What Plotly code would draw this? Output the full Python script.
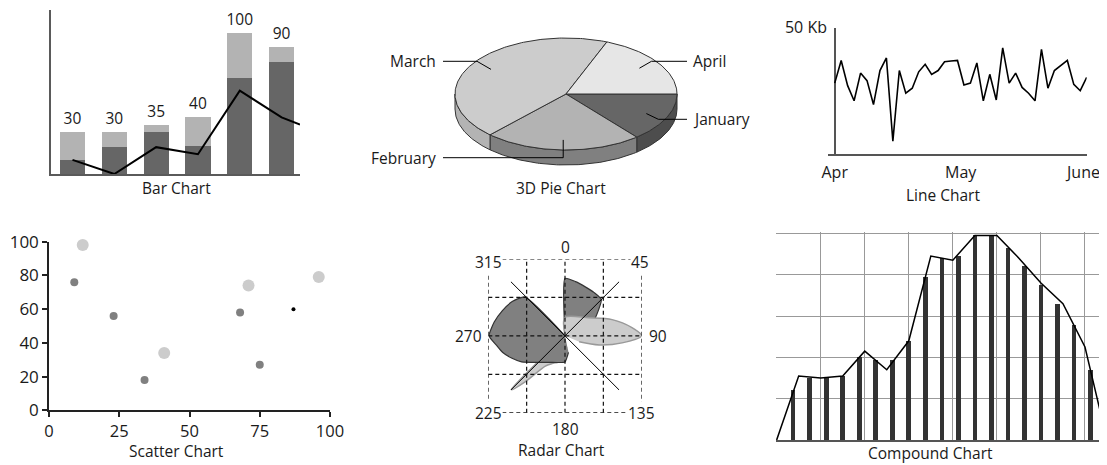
import numpy as np
import plotly.graph_objects as go

W, H = 1107, 465
OFF = 8  # the page body keeps its default 8px margin, so the figure starts at (8, 8)
FONT = "Open Sans"
INK = "#1a1a1a"

# ---------------- data ----------------
# bar chart (stacked) + line
bar_x = [0, 1, 2, 3, 4, 5]
bar_labels = ["30", "30", "35", "40", "100", "90"]
bar_dark = [10, 19, 30, 20, 68, 79]
bar_light = [20, 11, 5, 20, 32, 11]
bar_line_x = [0, 1, 2, 3, 4, 5, 5.44]
bar_line_y = [10, 0, 19, 14, 59, 40, 35]

# 3D pie
pie_labels = ["January", "February", "March", "April"]
pie_values = [14, 23, 44, 19]
pie_top_colors = ["#666666", "#b3b3b3", "#cccccc", "#e6e6e6"]
pie_side_colors = ["#4d4d4d", "#808080", "#b3b3b3", "#cccccc"]

# line chart (Kb)
kb_values = [28, 37, 27, 21, 32, 29, 19.5, 33, 38, 5,
             33, 24, 26, 32.5, 35.5, 31.5, 33, 36.5, 36.8, 37,
             27.3, 28, 36, 21, 31.5, 21.3, 42, 28, 32, 26.3,
             24, 21, 41.4, 26, 33, 35, 37, 27.5, 25, 30.3]
kb_x = list(range(len(kb_values)))
kb_tick_pos = [0, 19.5, 38.5]
kb_tick_labels = ["Apr", "May", "June"]

# scatter
sc_big_x = [12, 41, 71, 96]
sc_big_y = [98, 34, 74, 79]
sc_mid_x = [9, 23, 34, 68, 75]
sc_mid_y = [76, 56, 18, 58, 27]
sc_dot_x = [87]
sc_dot_y = [60]

# radar (degrees clockwise from north, radius 0..1)
radar_angles = [0, 45, 90, 135, 180, 225, 270, 315]
radar_dark_top_theta = [0, 0, 11, 23, 34, 45, 60, 75]
radar_dark_top_r = [0, 0.75, 0.72, 0.69, 0.68, 0.67, 0.45, 0.25]
radar_dark_left_theta = [0, 314, 303, 292, 281, 270, 262, 255, 247, 239, 225, 210, 195, 180, 168]
radar_dark_left_r = [0, 0.73, 0.82, 0.88, 0.94, 0.99, 0.9, 0.84, 0.75, 0.66, 0.49, 0.4, 0.36,
                     0.34, 0.22]
radar_light_right_theta = [0, 0, 53, 71, 83, 90, 97, 105, 113]
radar_light_right_r = [0, 0.24, 0.39, 0.65, 0.88, 1.0, 0.75, 0.46, 0.2]
radar_light_low_theta = [225, 225, 221, 213, 202, 185, 172]
radar_light_low_r = [0, 1.0, 0.8, 0.47, 0.38, 0.3, 0.15]

# compound chart
comp_line_x = list(range(16))
comp_line_y = [0, 31, 30, 31, 43, 34, 48, 89, 87, 99, 99, 88, 76, 66, 45, 0]
comp_bar_x = [0.75, 1.5, 2.25, 3, 3.75, 4.5, 5.25, 6, 6.75, 7.5,
              8.25, 9, 9.75, 10.5, 11.25, 12, 12.75, 13.5, 14.25]
comp_bar_y = [24, 30, 30, 31, 40, 38.5, 38.5, 48, 79, 88,
              89, 99, 99, 93, 84, 75, 66, 55.5, 34]

FW, FH = W - OFF, H - OFF


# window pixel -> paper helpers
def fx(p):
    return (p - OFF) / FW


def fy(p):
    return 1 - (p - OFF) / FH


fig = go.Figure()

# ---------------- bar chart ----------------
fig.add_trace(go.Bar(x=bar_x, y=bar_dark, marker=dict(color="#666666", line=dict(width=0)),
                     width=0.6, xaxis="x", yaxis="y"))
fig.add_trace(go.Bar(x=bar_x, y=bar_light, marker=dict(color="#b3b3b3", line=dict(width=0)),
                     width=0.6, text=bar_labels, textposition="outside", constraintext="none",
                     cliponaxis=False, textfont=dict(size=15.5, color=INK, family=FONT),
                     xaxis="x", yaxis="y"))
fig.add_trace(go.Scatter(x=bar_line_x, y=bar_line_y, mode="lines",
                         line=dict(color="#000000", width=2), xaxis="x", yaxis="y"))

# ---------------- 3D pie ----------------
cx, cy, rx, ry, depth = 566, 94, 111, 56, 15
bounds = np.concatenate([[0], np.cumsum(pie_values)]) / sum(pie_values) * 360


def arc(a0, a1, off=0.0):
    t = np.radians(np.linspace(a0, a1, max(2, int(abs(a1 - a0)) + 1)))
    return list(cx + rx * np.cos(t)), list(cy + ry * np.sin(t) + off)


# front walls
for i in range(len(pie_values)):
    s0, s1 = max(bounds[i], 0), min(bounds[i + 1], 180)
    if s1 > s0:
        xt, yt = arc(s0, s1)
        xb, yb = arc(s1, s0, depth)
        fig.add_trace(go.Scatter(x=xt + xb + [xt[0]], y=yt + yb + [yt[0]], mode="lines",
                                 fill="toself", fillcolor=pie_side_colors[i],
                                 line=dict(color="#333333", width=1), xaxis="x2", yaxis="y2"))
# top faces
for i in range(len(pie_values)):
    xt, yt = arc(bounds[i], bounds[i + 1])
    fig.add_trace(go.Scatter(x=[cx] + xt + [cx], y=[cy] + yt + [cy], mode="lines",
                             fill="toself", fillcolor=pie_top_colors[i],
                             line=dict(color="#333333", width=1), xaxis="x2", yaxis="y2"))

# labels + leader lines
pie_label_y = {"January": 119.3, "February": 157.7, "March": 61.3, "April": 61.3}
annotations = []
for i, name in enumerate(pie_labels):
    mid = np.radians((bounds[i] + bounds[i + 1]) / 2)
    ax_, ay_ = cx + 0.8 * rx * np.cos(mid), cy + 0.82 * ry * np.sin(mid)
    ly = pie_label_y[name]
    left = np.cos(mid) < 0.1
    end_x = 443 if left else 687
    if abs(np.cos(mid)) < 0.3:
        xs, ys = [ax_, ax_, end_x], [ay_, ly, ly]
    else:
        ex = ax_ - 14 if left else ax_ + 12
        xs, ys = [ax_, ex, end_x], [ay_, ly, ly]
    fig.add_trace(go.Scatter(x=xs, y=ys, mode="lines", line=dict(color="#000000", width=1),
                             xaxis="x2", yaxis="y2"))
    annotations.append(dict(x=438 if left else 691, y=ly, xref="x2", yref="y2", text=name,
                            showarrow=False, xanchor="right" if left else "left",
                            yanchor="middle", font=dict(size=15.5)))

# ---------------- line chart ----------------
fig.add_trace(go.Scatter(x=kb_x, y=kb_values, mode="lines",
                         line=dict(color="#000000", width=1.6), xaxis="x3", yaxis="y3"))

# ---------------- scatter ----------------
fig.add_trace(go.Scatter(x=sc_big_x, y=sc_big_y, mode="markers",
                         marker=dict(color="#cccccc", size=12, line=dict(width=0)),
                         xaxis="x4", yaxis="y4", cliponaxis=False))
fig.add_trace(go.Scatter(x=sc_mid_x, y=sc_mid_y, mode="markers",
                         marker=dict(color="#808080", size=8, line=dict(width=0)),
                         xaxis="x4", yaxis="y4"))
fig.add_trace(go.Scatter(x=sc_dot_x, y=sc_dot_y, mode="markers",
                         marker=dict(color="#000000", size=4, line=dict(width=0)),
                         xaxis="x4", yaxis="y4"))

# ---------------- radar ----------------
def petal(theta, r, fill, edge, width, smooth):
    return go.Scatterpolar(theta=theta, r=r, mode="lines", fill="toself", fillcolor=fill,
                           line=dict(color=edge, width=width, shape="spline", smoothing=smooth),
                           subplot="polar")


fig.add_trace(petal(radar_light_low_theta, radar_light_low_r, "#cccccc", "#999999", 1.5, 0.9))
fig.add_trace(petal(radar_dark_left_theta, radar_dark_left_r, "#808080", "#333333", 1.2, 0.5))
fig.add_trace(petal(radar_dark_top_theta, radar_dark_top_r, "#808080", "#333333", 1.2, 0.5))
fig.add_trace(petal(radar_light_right_theta, radar_light_right_r, "#cccccc", "#999999", 1.5, 0.9))
for a in radar_angles[1::2][:2]:
    fig.add_trace(go.Scatterpolar(theta=[a, a + 180], r=[1, 1], mode="lines",
                                  line=dict(color="#000000", width=1), subplot="polar"))

shapes = []
for v in [-1, -0.5, 0, 0.5, 1]:
    shapes.append(dict(type="line", xref="x5", yref="y5", x0=v, x1=v, y0=-1, y1=1,
                       line=dict(color="#111111", width=1.2, dash="4px,3px"), layer="above"))
    shapes.append(dict(type="line", xref="x5", yref="y5", x0=-1, x1=1, y0=v, y1=v,
                       line=dict(color="#111111", width=1.2, dash="4px,3px"), layer="above"))

radar_label_pos = {0: (0, 1, 0, 12), 45: (1, 1, -2, -3), 90: (1, 0, 16, 0), 135: (1, -1, 0, 0),
                   180: (0, -1, 0, -16), 225: (-1, -1, 0, 0), 270: (-1, 0, -20, 0),
                   315: (-1, 1, 0, -3)}
for a in radar_angles:
    x, y, dx, dy = radar_label_pos[a]
    annotations.append(dict(x=x, y=y, xref="x5", yref="y5", text=str(a), showarrow=False,
                            xshift=dx, yshift=dy, bgcolor="#ffffff", borderpad=0,
                            font=dict(size=15.5)))

# ---------------- compound ----------------
fig.add_trace(go.Bar(x=comp_bar_x, y=comp_bar_y, width=0.21,
                     marker=dict(color="#333333", line=dict(width=0)), xaxis="x6", yaxis="y6"))
fig.add_trace(go.Scatter(x=comp_line_x, y=comp_line_y, mode="lines",
                         line=dict(color="#000000", width=1.5), xaxis="x6", yaxis="y6",
                         cliponaxis=False))

# ---------------- titles ----------------
titles = [("Bar Chart", 176, 188), ("3D Pie Chart", 561, 188), ("Line Chart", 942.5, 195),
          ("Scatter Chart", 176, 451), ("Radar Chart", 561.7, 450), ("Compound Chart", 930, 453)]
for t, x, y in titles:
    annotations.append(dict(x=fx(x), y=fy(y), xref="paper", yref="paper", text=t,
                            showarrow=False, xanchor="center", yanchor="middle",
                            font=dict(size=15.5)))

hidden = dict(visible=False, fixedrange=True, automargin=False)
fig.update_layout(
    template="none",
    width=FW, height=FH,
    margin=dict(l=0, r=0, t=0, b=0, pad=0, autoexpand=False),
    paper_bgcolor="#ffffff", plot_bgcolor="rgba(0,0,0,0)",
    font=dict(family=FONT, size=15.5, color=INK),
    showlegend=False, hovermode=False, barmode="stack",
    # bar chart
    xaxis=dict(domain=[fx(51), fx(300)], range=[-0.514, 5.44], showline=True, linecolor="#5a5a5a",
               linewidth=2, showgrid=False, zeroline=False, showticklabels=False, ticks="",
               anchor="y", fixedrange=True, automargin=False),
    yaxis=dict(domain=[fy(174), fy(10)], range=[0, 116], showline=True, linecolor="#5a5a5a",
               linewidth=2, showgrid=False, zeroline=False, showticklabels=False, ticks="",
               anchor="x", fixedrange=True, automargin=False),
    # pie
    xaxis2=dict(domain=[fx(430), fx(760)], range=[430, 760], anchor="y2", **hidden),
    yaxis2=dict(domain=[fy(180), fy(20)], range=[180, 20], anchor="x2", **hidden),
    # line chart
    xaxis3=dict(domain=[fx(828), fx(1086.7)], range=[-1.04, 39], anchor="y3", showline=True,
                linecolor="#555555", linewidth=2, zeroline=True, zerolinecolor="#555555",
                zerolinewidth=2, showgrid=False, ticks="", tickvals=kb_tick_pos,
                ticktext=kb_tick_labels, tickfont=dict(size=16), ticklabelstandoff=3,
                fixedrange=True, automargin=False),
    yaxis3=dict(domain=[fy(153.7), fy(27.7)], range=[0, 50], anchor="x3", showline=False,
                zeroline=False, showgrid=False, ticks="inside", ticklen=6, tickwidth=1.5,
                tickcolor="#555555", tickvals=[50], ticktext=["50 Kb"],
                tickfont=dict(size=16), fixedrange=True, automargin=False),
    # scatter
    xaxis4=dict(domain=[fx(49), fx(330)], range=[0, 100], anchor="y4", showline=True,
                linecolor="#222222", linewidth=1.5, ticks="outside", ticklen=5, tickwidth=1.5,
                tickcolor="#222222", tickvals=[0, 25, 50, 75, 100], showgrid=False,
                zeroline=False, tickfont=dict(size=16.5), ticklabelstandoff=0,
                fixedrange=True, automargin=False),
    yaxis4=dict(domain=[fy(410.3), fy(241.7)], range=[0, 100], anchor="x4", showline=True,
                linecolor="#222222", linewidth=1.5, ticks="outside", ticklen=5, tickwidth=1.5,
                tickcolor="#222222", tickvals=[0, 20, 40, 60, 80, 100], showgrid=False,
                zeroline=False, tickfont=dict(size=17), fixedrange=True, automargin=False),
    # radar grid frame
    xaxis5=dict(domain=[fx(488.3), fx(641.7)], range=[-1, 1], anchor="y5", **hidden),
    yaxis5=dict(domain=[fy(412.7), fy(259)], range=[-1, 1], anchor="x5", **hidden),
    polar=dict(domain=dict(x=[fx(488.3), fx(641.7)], y=[fy(412.7), fy(259)]),
               bgcolor="rgba(0,0,0,0)",
               radialaxis=dict(visible=False, range=[0, 1]),
               angularaxis=dict(visible=False, rotation=90, direction="clockwise")),
    # compound
    xaxis6=dict(domain=[fx(776), 1], range=[-0.03, 15], anchor="y6", showline=True,
                linecolor="#555555", linewidth=2, showgrid=True, gridcolor="#999999",
                gridwidth=1, tick0=0, dtick=2, ticks="", showticklabels=False,
                zeroline=False, fixedrange=True, automargin=False),
    yaxis6=dict(domain=[fy(440), fy(232.1)], range=[0, 100.6], anchor="x6", showline=False,
                showgrid=True, gridcolor="#999999", gridwidth=1, tick0=0, dtick=20, ticks="",
                showticklabels=False, zeroline=False, fixedrange=True, automargin=False),
    shapes=shapes,
    annotations=annotations,
)

fig.write_html("out.html")
